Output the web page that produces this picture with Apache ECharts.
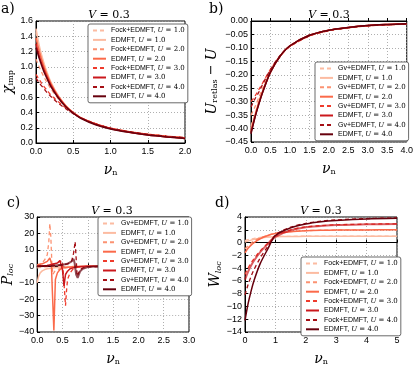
<!DOCTYPE html>
<html>
<head>
<meta charset="utf-8">
<script src="https://cdn.jsdelivr.net/npm/echarts@6/dist/echarts.min.js"></script>
<style>
  html, body { margin: 0; padding: 0; background: #fff; }
  #chart { width: 416px; height: 367px; }
</style>
</head>
<body>
<div id="chart"></div>
<script>
// ---- data ----
const uValues = ["1.0", "2.0", "3.0", "4.0"];
const lineColors = ["#fcbba1", "#fcbba1", "#fc9272", "#fb6a4a", "#ef3b2c", "#cb181d", "#a50f15", "#67000d"];

// a) chi_imp
const nuA = [0, 0.05, 0.1, 0.15, 0.2, 0.3, 0.4, 0.5, 0.6, 0.8, 1.0, 1.25, 1.5, 1.75, 2.0];
const chiFock1 = [1.45, 1.22, 1.05, 0.91, 0.79, 0.62, 0.49, 0.40, 0.335, 0.25, 0.195, 0.15, 0.115, 0.09, 0.07];
const chiEd1 = [1.50, 1.25, 1.07, 0.92, 0.80, 0.62, 0.49, 0.40, 0.33, 0.25, 0.19, 0.145, 0.11, 0.085, 0.065];
const chiFock2 = [1.10, 0.98, 0.88, 0.79, 0.71, 0.58, 0.48, 0.40, 0.335, 0.25, 0.195, 0.15, 0.115, 0.09, 0.07];
const chiEd2 = [1.38, 1.18, 1.02, 0.89, 0.78, 0.61, 0.49, 0.40, 0.33, 0.25, 0.19, 0.145, 0.11, 0.085, 0.065];
const chiFock3 = [0.90, 0.82, 0.75, 0.69, 0.63, 0.54, 0.46, 0.39, 0.335, 0.255, 0.195, 0.15, 0.115, 0.09, 0.07];
const chiEd3 = [1.30, 1.12, 0.98, 0.86, 0.76, 0.60, 0.48, 0.395, 0.33, 0.245, 0.19, 0.14, 0.105, 0.08, 0.06];
const chiFock4 = [0.85, 0.78, 0.72, 0.66, 0.61, 0.52, 0.45, 0.385, 0.33, 0.25, 0.195, 0.15, 0.115, 0.09, 0.07];
const chiEd4 = [1.25, 1.09, 0.95, 0.84, 0.74, 0.59, 0.475, 0.39, 0.325, 0.24, 0.185, 0.14, 0.105, 0.08, 0.06];

// b) U_retarded - U
const nuB = [0, 0.1, 0.2, 0.3, 0.5, 0.75, 1.0, 1.5, 2.0, 2.5, 3.0, 3.5, 4.0];
const uGv1 = [-0.39, -0.345, -0.30, -0.26, -0.19, -0.13, -0.093, -0.054, -0.035, -0.025, -0.018, -0.014, -0.011];
const uEd1 = [-0.40, -0.35, -0.30, -0.26, -0.19, -0.13, -0.093, -0.054, -0.035, -0.025, -0.018, -0.014, -0.011];
const uGv2 = [-0.35, -0.32, -0.285, -0.25, -0.185, -0.13, -0.094, -0.055, -0.035, -0.025, -0.018, -0.014, -0.011];
const uEd2 = [-0.41, -0.355, -0.305, -0.262, -0.19, -0.13, -0.092, -0.053, -0.034, -0.024, -0.017, -0.013, -0.01];
const uGv3 = [-0.30, -0.28, -0.255, -0.23, -0.18, -0.13, -0.095, -0.056, -0.036, -0.025, -0.018, -0.014, -0.011];
const uEd3 = [-0.415, -0.358, -0.308, -0.264, -0.19, -0.13, -0.092, -0.053, -0.034, -0.024, -0.017, -0.013, -0.01];
const uGv4 = [-0.32, -0.29, -0.265, -0.235, -0.18, -0.128, -0.094, -0.055, -0.035, -0.025, -0.018, -0.014, -0.011];
const uEd4 = [-0.42, -0.36, -0.31, -0.265, -0.19, -0.13, -0.092, -0.053, -0.034, -0.024, -0.017, -0.013, -0.01];

// c) P_loc (each curve has its own nu samples)
const nuGv1 = [0, 0.1, 0.2, 0.3, 0.5, 1.0, 3.0];
const pGv1 = [-1, -0.5, -0.3, -0.2, -0.1, 0, 0];
const nuEd1 = [0, 0.03, 0.06, 0.1, 0.15, 0.2, 0.3, 0.5, 0.8, 1.2, 3.0];
const pEd1 = [-10, -6, -4, -2.8, -2, -1.5, -1, -0.5, -0.2, 0, 0];
const nuGv2 = [0, 0.05, 0.1, 0.15, 0.2, 0.23, 0.25, 0.27, 0.29, 0.31, 0.35, 0.4, 0.5, 0.7, 1.0, 3.0];
const pGv2 = [0.5, 1, 2, 4, 7, 15, 26, 18, 2, -5, -3, -2, -1, -0.5, 0, 0];
const nuEd2 = [0, 0.1, 0.2, 0.25, 0.28, 0.3, 0.33, 0.36, 0.4, 0.45, 0.5, 0.7, 1.0, 3.0];
const pEd2 = [1, 1.5, 3, 5, 2, -15, -39, -8, -4, -2, -1, -0.3, 0, 0];
const nuGv3 = [0, 0.2, 0.4, 0.45, 0.5, 0.53, 0.56, 0.58, 0.6, 0.65, 0.7, 0.8, 1.0, 3.0];
const pGv3 = [0, 0.5, 2, 3, 3, -10, -24, -15, -8, -4, -2, -0.5, 0, 0];
const nuEd3 = [0, 0.2, 0.4, 0.45, 0.48, 0.5, 0.53, 0.56, 0.6, 0.65, 0.7, 0.8, 1.0, 3.0];
const pEd3 = [0, 0.5, 2, 3.5, 4.5, -2, -12, -5, -3, -1.5, -1, -0.3, 0, 0];
const nuGv4 = [0, 0.3, 0.5, 0.6, 0.68, 0.72, 0.75, 0.77, 0.79, 0.82, 0.85, 0.9, 1.0, 3.0];
const pGv4 = [0, 0.2, 0.8, 1.5, 3, 8, 15, 5, -6, -4, -2, -1, -0.3, 0];
const nuEd4 = [0, 0.3, 0.5, 0.6, 0.68, 0.72, 0.74, 0.77, 0.8, 0.85, 0.9, 1.0, 1.2, 3.0];
const pEd4 = [0, 0.3, 1, 1.5, 3, 4.5, 2, -5, -7, -3, -1.5, -0.5, 0, 0];

// d) W_loc
const nuD = [0, 0.1, 0.2, 0.3, 0.5, 0.75, 1.0, 1.5, 2.0, 2.5, 3.0, 4.0, 5.0];
const wFock1 = [0.3, 0.45, 0.55, 0.65, 0.8, 0.9, 0.95, 0.98, 0.99, 1.0, 1.0, 1.0, 1.0];
const wEd1 = [0.1, 0.25, 0.38, 0.5, 0.7, 0.85, 0.9, 0.95, 0.97, 0.98, 0.99, 1.0, 1.0];
const wFock2 = [-1.0, -0.5, -0.1, 0.25, 0.75, 1.15, 1.45, 1.72, 1.86, 1.93, 1.96, 1.99, 2.0];
const wEd2 = [-1.6, -0.9, -0.4, 0, 0.6, 1.1, 1.4, 1.7, 1.85, 1.92, 1.95, 1.98, 2.0];
const wFock3 = [-5.0, -4.0, -3.2, -2.5, -1.3, -0.1, 1.0, 2.0, 2.45, 2.65, 2.78, 2.88, 2.94];
const wEd3 = [-5.8, -4.6, -3.6, -2.8, -1.5, -0.2, 0.9, 1.9, 2.4, 2.6, 2.75, 2.85, 2.92];
const wFock4 = [-8.2, -6.6, -5.3, -4.2, -2.4, -0.6, 1.2, 2.4, 3.0, 3.35, 3.55, 3.75, 3.85];
const wEd4 = [-12.2, -9.6, -7.6, -5.9, -3.3, -1.0, 1.1, 2.3, 2.9, 3.25, 3.45, 3.7, 3.8];

// ---- helpers ----
const SANS = "'Liberation Sans', 'DejaVu Sans', sans-serif";
const SERIF = "'DejaVu Serif', 'Liberation Serif', serif";
const MINUS = "\u2212";

function zip(xs, ys) {
  return xs.map((x, i) => [x, ys[i]]);
}

function fmt(v, digits) {
  const s = Math.abs(v).toFixed(digits);
  return v < -1e-9 ? MINUS + s : s;
}

function curveName(method, k) {
  return `${method}, U = ${uValues[k]}`;
}

function buildSeries(gridIdx, altMethod, curves, opts) {
  // curves: 8 entries in order alt1, ed1, alt2, ed2, ...
  return curves.map((data, i) => {
    const k = Math.floor(i / 2);
    const dashed = i % 2 === 0;
    const extra = (opts && opts[i]) || {};
    return {
      name: curveName(dashed ? altMethod : "EDMFT", k),
      type: "line",
      xAxisIndex: gridIdx,
      yAxisIndex: gridIdx,
      data,
      symbol: "none",
      smooth: extra.smooth ?? 0.3,
      animation: false,
      lineStyle: {
        color: lineColors[i],
        width: extra.width ?? (dashed ? 1.3 : 1.5),
        type: dashed ? [4, 3] : "solid",
        opacity: extra.opacity ?? 1,
      },
      itemStyle: { color: lineColors[i] },
    };
  });
}

function legendFor(altMethod, left, top) {
  const names = [];
  for (let k = 0; k < 4; k++) {
    names.push(curveName(altMethod, k), curveName("EDMFT", k));
  }
  return {
    data: names,
    orient: "vertical",
    left,
    top,
    selectedMode: false,
    itemWidth: 13,
    itemHeight: 7,
    itemGap: 2.4,
    padding: [3, 3, 3, 4],
    backgroundColor: "#fff",
    borderColor: "#444",
    borderWidth: 0.8,
    borderRadius: 2,
    itemStyle: { opacity: 0 },
    formatter: (name) => {
      const [m, u] = name.split(", U = ");
      return `{s|${m}, }{i|U}{n| = ${u}}`;
    },
    textStyle: {
      color: "#000",
      fontSize: 7,
      fontFamily: SANS,
      rich: {
        s: { fontSize: 7, fontFamily: SANS, color: "#000" },
        i: { fontSize: 7, fontFamily: SERIF, fontStyle: "italic", color: "#000" },
        n: { fontSize: 7, fontFamily: SERIF, color: "#000" },
      },
    },
  };
}

function xAxisFor(gridIdx, max, interval, digits) {
  return {
    type: "value",
    gridIndex: gridIdx,
    min: 0,
    max,
    interval,
    name: "{g|ν}{sub|n}",
    nameLocation: "middle",
    nameGap: 20,
    nameTextStyle: {
      rich: {
        g: { fontSize: 14, fontFamily: SERIF, fontStyle: "italic", color: "#000", lineHeight: 14, verticalAlign: "top" },
        sub: { fontSize: 8, fontFamily: SERIF, color: "#000", lineHeight: 10, verticalAlign: "bottom" },
      },
    },
    axisLine: { show: true, lineStyle: { color: "#000", width: 1 } },
    axisTick: { show: true, inside: true, length: 3, lineStyle: { color: "#000" } },
    axisLabel: { color: "#000", fontSize: 9, fontFamily: SANS, margin: 4, formatter: (v) => fmt(v, digits) },
    splitLine: { show: true, lineStyle: { color: "#9a9a9a", type: [1, 2], width: 0.8 } },
  };
}

function yAxisFor(gridIdx, min, max, interval, digits, nameRich, nameGap) {
  return {
    type: "value",
    gridIndex: gridIdx,
    min,
    max,
    interval,
    name: nameRich,
    nameLocation: "middle",
    nameRotate: 90,
    nameGap,
    nameTextStyle: {
      rich: {
        g: { fontSize: 14, fontFamily: SERIF, fontStyle: "italic", color: "#000", lineHeight: 14, verticalAlign: "top" },
        r: { fontSize: 13, fontFamily: SERIF, color: "#000", lineHeight: 14, verticalAlign: "top" },
        sub: { fontSize: 8, fontFamily: SERIF, color: "#000", lineHeight: 10, verticalAlign: "bottom" },
        subi: { fontSize: 8, fontFamily: SERIF, fontStyle: "italic", color: "#000", lineHeight: 10, verticalAlign: "bottom" },
      },
    },
    axisLine: { show: true, lineStyle: { color: "#000", width: 1 } },
    axisTick: { show: true, inside: true, length: 3, lineStyle: { color: "#000" } },
    axisLabel: { color: "#000", fontSize: 9, fontFamily: SANS, margin: 3, formatter: (v) => fmt(v, digits) },
    splitLine: { show: true, lineStyle: { color: "#9a9a9a", type: [1, 2], width: 0.8 } },
  };
}

function titleText(cx, cy) {
  return {
    type: "text",
    x: cx,
    y: cy,
    style: {
      text: "{i|V} {n|= 0.3}",
      align: "center",
      verticalAlign: "middle",
      rich: {
        i: { fontSize: 11, fontFamily: SERIF, fontStyle: "italic", fill: "#000" },
        n: { fontSize: 11, fontFamily: SERIF, fill: "#000" },
      },
    },
  };
}

function panelLabel(text, x, y) {
  return {
    type: "text",
    x,
    y,
    style: { text, fontSize: 14, fontFamily: SERIF, fill: "#000" },
  };
}

const chart = echarts.init(document.getElementById("chart"), null, { renderer: "canvas" });

const gridBase = { show: true, borderColor: "#000", borderWidth: 1, backgroundColor: "#fff", containLabel: false };

chart.setOption({
  backgroundColor: "#fff",
  animation: false,
  grid: [
    { ...gridBase, left: 33, top: 21, width: 152, height: 122 },
    { ...gridBase, left: 251, top: 21, width: 156, height: 121 },
    { ...gridBase, left: 35, top: 217, width: 154, height: 123 },
    { ...gridBase, left: 245, top: 217, width: 152, height: 122 },
  ],
  xAxis: [
    xAxisFor(0, 2, 0.5, 1),
    xAxisFor(1, 4, 0.5, 1),
    xAxisFor(2, 3, 0.5, 1),
    xAxisFor(3, 5, 1, 0),
  ],
  yAxis: [
    yAxisFor(0, 0, 1.6, 0.2, 1, "{g|χ}{sub|imp}", 21),
    yAxisFor(1, -0.45, 0, 0.05, 2, "{g|U}{sub|retlas}{r| − }{g|U}", 32),
    yAxisFor(2, -40, 30, 10, 0, "{g|P}{subi|loc}", 22),
    yAxisFor(3, -14, 4, 2, 0, "{g|W}{subi|loc}", 22),
  ],
  legend: [
    legendFor("Fock+EDMFT", 88, 24),
    legendFor("Gv+EDMFT", 315, 62),
    legendFor("Gv+EDMFT", 98, 217),
    legendFor("Fock+EDMFT", 301, 257),
  ],
  graphic: [
    panelLabel("a)", 1, 2),
    panelLabel("b)", 209, 2),
    panelLabel("c)", 7, 196),
    panelLabel("d)", 215, 196),
    titleText(109, 15),
    titleText(329, 15),
    titleText(112, 211),
    titleText(321, 211),
  ],
  series: [
    ...buildSeries(0, "Fock+EDMFT", [
      zip(nuA, chiFock1), zip(nuA, chiEd1), zip(nuA, chiFock2), zip(nuA, chiEd2),
      zip(nuA, chiFock3), zip(nuA, chiEd3), zip(nuA, chiFock4), zip(nuA, chiEd4),
    ]),
    ...buildSeries(1, "Gv+EDMFT", [
      zip(nuB, uGv1), zip(nuB, uEd1), zip(nuB, uGv2), zip(nuB, uEd2),
      zip(nuB, uGv3), zip(nuB, uEd3), zip(nuB, uGv4), zip(nuB, uEd4),
    ]),
    ...buildSeries(2, "Gv+EDMFT", [
      zip(nuGv1, pGv1), zip(nuEd1, pEd1), zip(nuGv2, pGv2), zip(nuEd2, pEd2),
      zip(nuGv3, pGv3), zip(nuEd3, pEd3), zip(nuGv4, pGv4), zip(nuEd4, pEd4),
    ], Array.from({ length: 8 }, (_, i) => ({ smooth: false, opacity: i === 7 ? 0.7 : 1, width: i === 7 ? 2 : undefined }))),
    ...buildSeries(3, "Fock+EDMFT", [
      zip(nuD, wFock1), zip(nuD, wEd1), zip(nuD, wFock2), zip(nuD, wEd2),
      zip(nuD, wFock3), zip(nuD, wEd3), zip(nuD, wFock4), zip(nuD, wEd4),
    ], Array.from({ length: 8 }, (_, i) => (i === 5 ? { opacity: 0.7, width: 2 } : {}))),
  ],
});
</script>
</body>
</html>
